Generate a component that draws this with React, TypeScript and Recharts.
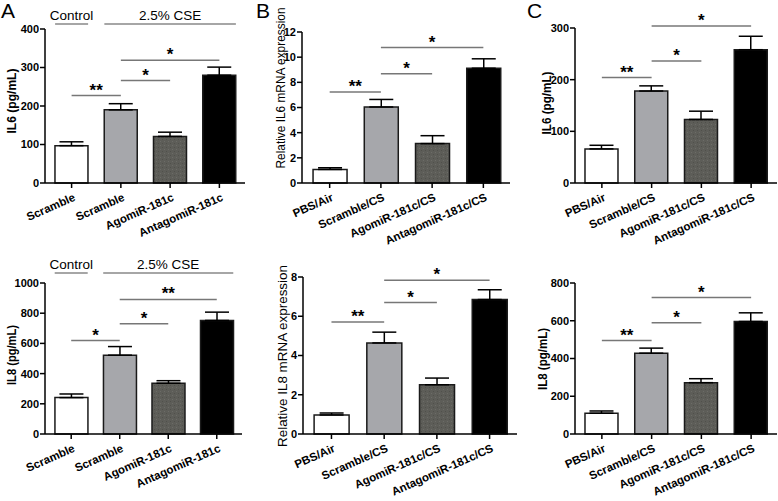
import React from 'react'
import { BarChart, Bar, XAxis, YAxis, Cell, ErrorBar, ReferenceLine } from 'recharts'

const CATS_CSE = ['Scramble', 'Scramble', 'AgomiR-181c', 'AntagomiR-181c']
const CATS_CS = ['PBS/Air', 'Scramble/CS', 'AgomiR-181c/CS', 'AntagomiR-181c/CS']
const POS = [1, 2, 3, 4]
const FILLS = ['#ffffff', '#a6a7ab', 'url(#speckle)', '#000000']

// A: cells, 2.5% CSE
const IL6_CSE = [97, 190, 121, 280]
const IL6_CSE_SEM = [10, 16, 11, 21]
const IL8_CSE = [241, 522, 336, 752]
const IL8_CSE_SEM = [24, 57, 17, 55]
// B: relative mRNA
const IL6_MRNA = [1.08, 6.04, 3.13, 9.12]
const IL6_MRNA_SEM = [0.13, 0.6, 0.63, 0.75]
const IL8_MRNA = [0.97, 4.64, 2.51, 6.85]
const IL8_MRNA_SEM = [0.1, 0.55, 0.34, 0.5]
// C: protein
const IL6_BALF = [66, 178, 123, 258]
const IL6_BALF_SEM = [7, 10, 16, 26]
const IL8_BALF = [110, 428, 272, 596]
const IL8_BALF_SEM = [12, 27, 21, 46]

// significance brackets: [from, to, height, mark]
const SIG_A6 = [[1, 2, 227, '**'], [2, 3, 266, '*'], [2, 4, 319, '*']]
const SIG_A8 = [[1, 2, 619, '*'], [2, 3, 730, '*'], [2, 4, 891, '**']]
const SIG_B6 = [[1, 2, 7.23, '**'], [2, 3, 8.69, '*'], [2, 4, 10.76, '*']]
const SIG_B8 = [[1, 2, 5.71, '**'], [2, 3, 6.7, '*'], [2, 4, 7.83, '*']]
const SIG_C6 = [[1, 2, 204, '**'], [2, 3, 236, '*'], [2, 4, 304, '*']]
const SIG_C8 = [[1, 2, 495, '**'], [2, 3, 589, '*'], [2, 4, 723, '*']]

const TICKS_A6 = [0, 100, 200, 300, 400]
const TICKS_A8 = [0, 200, 400, 600, 800, 1000]
const TICKS_B6 = [0, 2, 4, 6, 8, 10, 12]
const TICKS_B8 = [0, 2, 4, 6, 8]
const TICKS_C6 = [0, 100, 200, 300]
const TICKS_C8 = [0, 200, 400, 600, 800]

// treatment groups over panel A: [label, from, to]
const GROUPS = [['Control', 1, 1], ['2.5% CSE', 2, 4]]
const GROUP_LEVEL_A6 = 413
const GROUP_LEVEL_A8 = 1066

const XDOM = [0.46, 4.52]
const FONT = '"Liberation Sans", Arial, Helvetica, sans-serif'

function CatTick({ x, y, payload, cats }: any) {
  return (
    <text x={x} y={y} dy={11} transform={`rotate(-24 ${x} ${y})`} textAnchor="end"
      fontSize={11.5} fontWeight="bold" fill="#000">
      {cats[payload.value - 1]}
    </text>
  )
}

function AxisTitle({ text, cx, cy, size, bold, len }: any) {
  return (
    <text x={cx} y={cy} transform={`rotate(-90 ${cx} ${cy})`} textAnchor="middle"
      dominantBaseline="central" fontSize={size} fontWeight={bold ? 'bold' : 'normal'} fill="#000"
      textLength={len} lengthAdjust="spacingAndGlyphs">
      {text}
    </text>
  )
}

function Panel(p: any) {
  const mTop = 32
  const mRight = 4
  const xAxisH = 70
  const yw = p.plotLeft - p.x0
  const width = yw + p.plotW + mRight
  const height = mTop + p.plotH + xAxisH
  const data = POS.map((pos, i) => ({ pos, v: p.vals[i], e: [0, p.sem[i]] }))
  const hw = p.barSize / 2 / (p.plotW / (XDOM[1] - XDOM[0]))
  return (
    <div style={{ position: 'absolute', left: p.x0, top: p.plotTop - mTop }}>
      <BarChart width={width} height={height} data={data}
        margin={{ top: mTop, right: mRight, bottom: 0, left: 0 }}>
        <defs>
          <pattern id="speckle" width="4" height="4" patternUnits="userSpaceOnUse">
            <rect width="4" height="4" fill="#5d5d58" />
            <rect x="0" y="0" width="1" height="1" fill="#6c6c67" />
            <rect x="2" y="2" width="1" height="1" fill="#50504b" />
          </pattern>
        </defs>
        <XAxis dataKey="pos" type="number" domain={XDOM} ticks={POS} interval={0} height={xAxisH}
          allowDataOverflow tick={<CatTick cats={p.cats} />} tickSize={5}
          axisLine={{ stroke: '#000', strokeWidth: 1.5 }} tickLine={{ stroke: '#000', strokeWidth: 1.5 }} />
        <YAxis domain={[0, p.ticks[p.ticks.length - 1]]} ticks={p.ticks} interval={0} width={yw}
          tickSize={5} tickMargin={1}
          tick={{ fontSize: 11, fontWeight: 'bold', fill: '#000' }}
          axisLine={{ stroke: '#000', strokeWidth: 1.5 }} tickLine={{ stroke: '#000', strokeWidth: 1.5 }}
          label={<AxisTitle text={p.yLabel} cx={p.labelX - p.x0} cy={p.labelY - p.plotTop + mTop}
            size={p.labelSize} bold={p.labelBold} len={p.labelLen} />} />
        <Bar dataKey="v" barSize={p.barSize} stroke="#1a1a1a" strokeWidth={1.5} isAnimationActive={false}>
          {data.map((d, i) => <Cell key={i} fill={FILLS[i]} />)}
          <ErrorBar dataKey="e" direction="y" width={12} stroke="#000" strokeWidth={1.5} />
        </Bar>
        {p.sig.map(([a, b, h, m]: any, i: number) => (
          <ReferenceLine key={'s' + i} segment={[{ x: a, y: h }, { x: b, y: h }]} ifOverflow="visible"
            stroke="#777" strokeWidth={1.5}
            label={{ value: m, position: 'top', offset: 0, fontSize: 17, fontWeight: 'bold', fill: '#000' }} />
        ))}
        {p.groupLevel != null && GROUPS.map(([name, a, b]: any, i: number) => (
          <ReferenceLine key={'g' + i} segment={[{ x: a - hw, y: p.groupLevel }, { x: b + hw, y: p.groupLevel }]}
            ifOverflow="visible" stroke="#888" strokeWidth={1.5}
            label={{ value: name, position: 'top', offset: 4, fontSize: 13.5, fill: '#000' }} />
        ))}
      </BarChart>
    </div>
  )
}

const Letter = ({ ch, x }: any) => (
  <div style={{ position: 'absolute', left: x, top: 0, fontSize: 21, lineHeight: 1 }}>{ch}</div>
)

export default function App() {
  return (
    <div style={{ position: 'absolute', left: 0, top: 0, width: 778, height: 501, background: '#fff', fontFamily: FONT, overflow: 'hidden' }}>
      <Letter ch="A" x={1} />
      <Letter ch="B" x={256} />
      <Letter ch="C" x={527} />
      <Panel x0={0} plotLeft={45} plotTop={29} plotW={200} plotH={154} cats={CATS_CSE}
        vals={IL6_CSE} sem={IL6_CSE_SEM} sig={SIG_A6} ticks={TICKS_A6} barSize={33}
        yLabel="IL6 (pg/mL)" labelX={12} labelY={101} labelSize={12.5} labelLen={65} labelBold groupLevel={GROUP_LEVEL_A6} />
      <Panel x0={0} plotLeft={45} plotTop={283} plotW={197} plotH={151} cats={CATS_CSE}
        vals={IL8_CSE} sem={IL8_CSE_SEM} sig={SIG_A8} ticks={TICKS_A8} barSize={33}
        yLabel="IL8 (pg/mL)" labelX={12} labelY={355} labelSize={12.5} labelLen={60} labelBold groupLevel={GROUP_LEVEL_A8} />
      <Panel x0={255} plotLeft={302} plotTop={32} plotW={208} plotH={151} cats={CATS_CS}
        vals={IL6_MRNA} sem={IL6_MRNA_SEM} sig={SIG_B6} ticks={TICKS_B6} barSize={34}
        yLabel="Relative IL6 mRNA expression" labelX={281} labelY={88} labelSize={12.5} labelLen={161} />
      <Panel x0={255} plotLeft={303} plotTop={277} plotW={214} plotH={157} cats={CATS_CS}
        vals={IL8_MRNA} sem={IL8_MRNA_SEM} sig={SIG_B8} ticks={TICKS_B8} barSize={35}
        yLabel="Relative IL8 mRNA expression" labelX={282} labelY={356} labelSize={13.4} labelLen={182} />
      <Panel x0={515} plotLeft={575} plotTop={28} plotW={202} plotH={155} cats={CATS_CS}
        vals={IL6_BALF} sem={IL6_BALF_SEM} sig={SIG_C6} ticks={TICKS_C6} barSize={33}
        yLabel="IL6 (pg/mL)" labelX={547} labelY={103} labelSize={12.5} labelLen={63} labelBold />
      <Panel x0={515} plotLeft={575} plotTop={283} plotW={202} plotH={151} cats={CATS_CS}
        vals={IL8_BALF} sem={IL8_BALF_SEM} sig={SIG_C8} ticks={TICKS_C8} barSize={33}
        yLabel="IL8 (pg/mL)" labelX={543} labelY={359} labelSize={12.5} labelLen={62} labelBold />
    </div>
  )
}
